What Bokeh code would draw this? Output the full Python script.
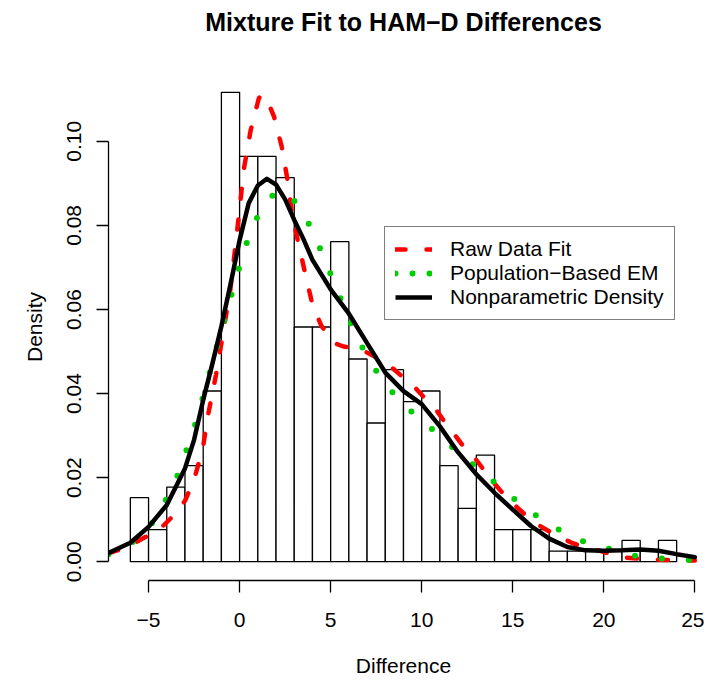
from bokeh.plotting import figure
from bokeh.models import Range1d, FixedTicker, NumeralTickFormatter, Legend, LegendItem, Title
from bokeh.embed import file_html
from bokeh.resources import INLINE

# ---- data ----
bin_edges = list(range(-6, 25))
bin_counts = [6, 3, 7, 9, 16, 44, 38, 38, 36, 22, 22, 30, 19, 13, 18, 15, 16, 9, 5, 10,
              3, 3, 3, 1, 1, 1, 1, 2, 1, 2]
n_total = sum(bin_counts)
density = [c / n_total for c in bin_counts]

np_x = [-7.2, -6, -5, -4, -3, -2.5, -2, -1.5, -1, -0.5, 0, 0.5, 1, 1.5, 2, 2.5, 3, 3.5, 4,
        5, 6, 7, 8, 9, 10, 11, 12, 13, 14, 15, 16, 17, 18, 19, 20, 21, 22, 23, 24, 25]
np_y = [0.0021, 0.0045, 0.0083, 0.0135, 0.0222, 0.0290, 0.0385, 0.0470, 0.0560, 0.0660,
        0.0765, 0.0853, 0.0895, 0.0911, 0.0897, 0.0862, 0.0813, 0.0768, 0.0718, 0.0648,
        0.0590, 0.0520, 0.0450, 0.0406, 0.0375, 0.0322, 0.0260, 0.0208, 0.0164, 0.0124,
        0.0085, 0.0055, 0.0035, 0.0027, 0.0026, 0.0027, 0.0029, 0.0026, 0.0018, 0.0011]

raw_x = [-7.2, -6.5, -6, -5, -4.35, -3.6, -3, -2.5, -2.25, -2, -1.75, -1.3, -1, -0.5, -0.13,
         0.24, 0.61, 1.06, 1.27, 1.5, 1.89, 2.31, 2.63, 2.9, 3.27, 3.64, 4.0, 4.5, 4.8, 5.2,
         5.7, 6.3, 6.8, 7.6, 8.2, 9.05, 9.6, 10.25, 10.8, 11.44, 11.9, 12.45, 13.0, 13.87,
         14.75, 15.3, 16.07, 16.73, 17.6, 18.24, 19.19, 19.8, 20.95, 21.64, 22.7, 23.4, 25.0]
raw_y = [0.0020, 0.0030, 0.0039, 0.0063, 0.0079, 0.0111, 0.0145, 0.0195, 0.0234, 0.0275,
         0.0345, 0.0444, 0.0520, 0.0650, 0.0789, 0.0936, 0.1027, 0.1103, 0.1111, 0.1100,
         0.1059, 0.0988, 0.0908, 0.0821, 0.0750, 0.0678, 0.0612, 0.0560, 0.0545, 0.0520,
         0.0512, 0.0508, 0.0502, 0.0484, 0.0468, 0.0436, 0.0416, 0.0385, 0.0361, 0.0321,
         0.0297, 0.0265, 0.0242, 0.0192, 0.0148, 0.0127, 0.0096, 0.0079, 0.0058, 0.0045,
         0.0030, 0.0026, 0.0011, 0.0008, 0.0005, 0.0004, 0.0003]

em_x = [-7.2, -5.82, -4.81, -3.98, -3.38, -2.88, -2.42, -2.02, -1.63, -1.23, -0.83, -0.42,
        -0.02, 0.40, 0.97, 1.82, 2.4, 3.07, 3.84, 4.44, 5.0, 5.56, 6.13, 6.76, 7.53, 8.41,
        9.44, 10.58, 11.68, 12.83, 13.96, 15.07, 16.25, 17.5, 18.84, 20.26, 21.69, 23.16,
        24.61, 25.0]
em_y = [0.0018, 0.0048, 0.0092, 0.0152, 0.0208, 0.0270, 0.0329, 0.0391, 0.0452, 0.0515,
        0.0577, 0.0639, 0.0700, 0.0760, 0.0820, 0.0872, 0.0882, 0.0856, 0.0801, 0.0743,
        0.0684, 0.0625, 0.0565, 0.0508, 0.0452, 0.0402, 0.0357, 0.0315, 0.0272, 0.0231,
        0.0190, 0.0150, 0.0111, 0.0077, 0.0049, 0.0031, 0.0014, 0.0008, 0.0004, 0.0003]

x_ticks = [-5, 0, 5, 10, 15, 20, 25]
y_ticks = [0.0, 0.02, 0.04, 0.06, 0.08, 0.10]
labels = ["Raw Data Fit", "Population\u2212Based EM", "Nonparametric Density"]
title_text = "Mixture Fit to HAM\u2212D Differences"

# ---- ranges (R-style 4% expansion) ----
xlo, xhi = bin_edges[0], bin_edges[-1]
ytop = max(density)
x_range = Range1d(xlo - 0.04 * (xhi - xlo), xhi + 0.04 * (xhi - xlo))
y_range = Range1d(-0.04 * ytop, ytop * 1.04)

FONT = "Liberation Sans"
NAN = float("nan")
FRAME_W, FRAME_H = 590, 507
B_LEFT, B_RIGHT, B_TOP, B_BOTTOM = 108, 6, 73, 103

p = figure(width=B_LEFT + FRAME_W + B_RIGHT, height=B_TOP + FRAME_H + B_BOTTOM,
           x_range=x_range, y_range=y_range,
           output_backend="svg", toolbar_location=None,
           min_border_left=B_LEFT, min_border_right=B_RIGHT,
           min_border_top=B_TOP, min_border_bottom=B_BOTTOM)
p.background_fill_color = "white"
p.border_fill_color = "white"
p.outline_line_color = None
p.xgrid.visible = False
p.ygrid.visible = False

# spacer (blank) above the frame, then the real title further out
p.add_layout(Title(text=" ", text_font=FONT, text_font_size="20px", standoff=14), "above")
p.add_layout(Title(text=title_text, align="center", vertical_align="bottom", standoff=0,
                   text_font=FONT, text_font_size="25px", text_font_style="bold",
                   text_color="black"), "above")

p.quad(left=bin_edges[:-1], right=bin_edges[1:], bottom=0, top=density,
       fill_color="white", line_color="black", line_width=1.3)

RAW_DASH = "10 21"
r_raw = p.line(raw_x, raw_y, line_color="#FF0000", line_width=4.5, line_dash=RAW_DASH,
               line_cap="round")
r_em = p.line(em_x, em_y, line_color="#00CD00", line_width=6, line_dash="0 27",
              line_cap="round")
r_np = p.line(np_x, np_y, line_color="black", line_width=4.5, line_cap="round",
              line_join="round")

# legend-only glyphs (no visible data)
leg_raw = p.line([NAN], [NAN], line_color="#FF0000", line_width=4.5, line_dash=RAW_DASH,
                 line_cap="round")
leg_em = p.line([NAN], [NAN], line_color="#00CD00", line_width=6, line_dash="0 17",
                line_cap="round")
leg_np = p.line([NAN], [NAN], line_color="black", line_width=4.5)

legend = Legend(items=[LegendItem(label=labels[0], renderers=[leg_raw]),
                       LegendItem(label=labels[1], renderers=[leg_em]),
                       LegendItem(label=labels[2], renderers=[leg_np])],
                location=(276, 260), margin=0, padding=10, spacing=0,
                glyph_width=37, glyph_height=20, label_height=20, label_standoff=18,
                label_text_font=FONT, label_text_font_size="21px", label_text_color="black",
                border_line_color="black", border_line_width=1.5,
                background_fill_color="white", background_fill_alpha=1)
p.add_layout(legend)

for ax in (p.xaxis[0], p.yaxis[0]):
    ax.axis_line_width = 1.3
    ax.axis_line_color = "black"
    ax.major_tick_line_width = 1.3
    ax.major_tick_line_color = "black"
    ax.major_tick_out = 12
    ax.major_tick_in = 0
    ax.minor_tick_line_color = None
    ax.major_label_text_font = FONT
    ax.major_label_text_font_size = "21px"
    ax.major_label_text_color = "black"
    ax.axis_label_text_font = FONT
    ax.axis_label_text_font_size = "21px"
    ax.axis_label_text_font_style = "normal"
    ax.axis_label_text_color = "black"

p.xaxis.bounds = (x_ticks[0], x_ticks[-1])
p.yaxis.bounds = (y_ticks[0], y_ticks[-1])
p.xaxis.ticker = FixedTicker(ticks=x_ticks)
p.yaxis.ticker = FixedTicker(ticks=y_ticks)
p.xaxis.major_label_overrides = {t: str(t).replace("-", "\u2212") for t in x_ticks}
p.yaxis.formatter = NumeralTickFormatter(format="0.00")
p.yaxis.major_label_orientation = "vertical"
p.xaxis.axis_label = "Difference"
p.yaxis.axis_label = "Density"
p.xaxis.major_label_standoff = 20
p.yaxis.major_label_standoff = 15
p.xaxis.axis_label_standoff = 24
p.yaxis.axis_label_standoff = 19

open("out.html", "w").write(file_html(p, INLINE))
